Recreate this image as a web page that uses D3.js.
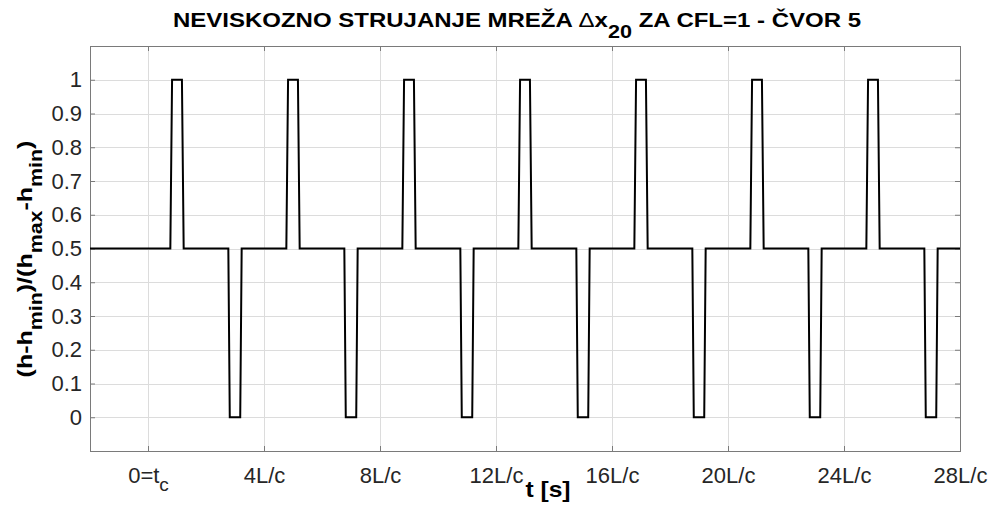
<!DOCTYPE html>
<html>
<head>
<meta charset="utf-8">
<script src="https://cdn.jsdelivr.net/npm/d3@7"></script>
<style>
  body { margin: 0; background: #fff; }
  text { font-family: "Liberation Sans", Arial, sans-serif; }
</style>
</head>
<body>
<svg id="chart"></svg>
<script>
// time in units of L/c, relative head (h-hmin)/(hmax-hmin)
const tVals = [
  -2,
  0.77, 0.83, 1.17, 1.23,   2.77, 2.82, 3.18, 3.23,
  4.77, 4.83, 5.17, 5.23,   6.77, 6.82, 7.18, 7.23,
  8.77, 8.83, 9.17, 9.23,   10.77, 10.82, 11.18, 11.23,
  12.77, 12.83, 13.17, 13.23, 14.77, 14.82, 15.18, 15.23,
  16.77, 16.83, 17.17, 17.23, 18.77, 18.82, 19.18, 19.23,
  20.77, 20.83, 21.17, 21.23, 22.77, 22.82, 23.18, 23.23,
  24.77, 24.83, 25.17, 25.23, 26.77, 26.82, 27.18, 27.23,
  28
];
const hVals = [
  0.5,
  0.5, 1, 1, 0.5,   0.5, 0, 0, 0.5,
  0.5, 1, 1, 0.5,   0.5, 0, 0, 0.5,
  0.5, 1, 1, 0.5,   0.5, 0, 0, 0.5,
  0.5, 1, 1, 0.5,   0.5, 0, 0, 0.5,
  0.5, 1, 1, 0.5,   0.5, 0, 0, 0.5,
  0.5, 1, 1, 0.5,   0.5, 0, 0, 0.5,
  0.5, 1, 1, 0.5,   0.5, 0, 0, 0.5,
  0.5
];
const xTicks = [0, 4, 8, 12, 16, 20, 24, 28];
const xTickLabels = ["0=t", "4L/c", "8L/c", "12L/c", "16L/c", "20L/c", "24L/c", "28L/c"];
const yTicks = [0, 0.1, 0.2, 0.3, 0.4, 0.5, 0.6, 0.7, 0.8, 0.9, 1];

const W = 992, H = 508;
const margin = { top: 46, right: 32, bottom: 57, left: 90 };
const width = W - margin.left - margin.right;
const height = H - margin.top - margin.bottom;

const svg = d3.select("#chart").attr("width", W).attr("height", H);
const g = svg.append("g").attr("transform", `translate(${margin.left},${margin.top})`);

const x = d3.scaleLinear().domain([-2, 28]).range([0, width]);
const y = d3.scaleLinear().domain([-0.1, 1.1]).range([height, 0]);

// grid
const grid = g.append("g").attr("stroke", "#dcdcdc").attr("stroke-width", 1);
grid.selectAll("line.gx").data(xTicks).join("line")
    .attr("x1", d => Math.round(x(d)) + 0.5).attr("x2", d => Math.round(x(d)) + 0.5)
    .attr("y1", 0).attr("y2", height);
grid.selectAll("line.gy").data(yTicks).join("line")
    .attr("y1", d => Math.round(y(d)) + 0.5).attr("y2", d => Math.round(y(d)) + 0.5)
    .attr("x1", 0).attr("x2", width);

// axes
const axisColor = "#7a7a7a";
const tickColor = "#262626";
const tickFont = 22;

const xAxis = g.append("g")
    .attr("transform", `translate(0,${height})`)
    .call(d3.axisBottom(x).tickValues(xTicks).tickSizeInner(-5).tickSizeOuter(0).tickPadding(16)
        .tickFormat((d, i) => xTickLabels[i]));
xAxis.selectAll("text").attr("font-size", tickFont).attr("fill", tickColor)
    .style("font-family", "'Liberation Sans', Arial, sans-serif");
xAxis.select(".tick text").append("tspan").attr("font-size", 19).attr("dy", 8).text("c");

g.append("g").call(d3.axisTop(x).tickValues(xTicks).tickSizeInner(-5).tickSizeOuter(0).tickFormat(""));

const yAxis = g.append("g")
    .call(d3.axisLeft(y).tickValues(yTicks).tickSizeInner(-5).tickSizeOuter(0).tickPadding(8)
        .tickFormat(d3.format("~g")));
yAxis.selectAll("text").attr("font-size", tickFont).attr("fill", tickColor)
    .style("font-family", "'Liberation Sans', Arial, sans-serif");

g.append("g").attr("transform", `translate(${width},0)`)
    .call(d3.axisRight(y).tickValues(yTicks).tickSizeInner(-5).tickSizeOuter(0).tickFormat(""));

g.selectAll(".domain").attr("stroke", axisColor);
g.selectAll(".tick line").attr("stroke", axisColor);

// box
g.append("rect").attr("x", 0.5).attr("y", 0.5).attr("width", width).attr("height", height)
    .attr("fill", "none").attr("stroke", axisColor);

// line
const line = d3.line().x(d => x(d[0])).y(d => y(d[1]));
g.append("path")
    .datum(tVals.map((t, i) => [t, hVals[i]]))
    .attr("d", line)
    .attr("fill", "none")
    .attr("stroke", "#000")
    .attr("stroke-width", 2)
    .attr("stroke-linejoin", "miter");

// title
const title = svg.append("text")
    .attr("transform", "translate(517,27) scale(1.2,1)")
    .attr("text-anchor", "middle")
    .attr("font-size", 20).attr("font-weight", "bold").attr("fill", "#000");
title.append("tspan").text("NEVISKOZNO STRUJANJE MREŽA ");
title.append("tspan").attr("font-weight", "normal").text("Δ");
title.append("tspan").text("x");
title.append("tspan").attr("dy", 11).attr("font-size", 18).text("20");
title.append("tspan").attr("dy", -11).text(" ZA CFL=1 - ČVOR 5");

// x label
svg.append("text")
    .attr("transform", "translate(548,497) scale(1.12,1)")
    .attr("text-anchor", "middle")
    .attr("font-size", 22).attr("font-weight", "bold").attr("fill", "#000")
    .text("t [s]");

// y label
const ylab = svg.append("text")
    .attr("transform", "translate(32,259) rotate(-90) scale(1.19,1)")
    .attr("text-anchor", "middle")
    .attr("font-size", 21).attr("font-weight", "bold").attr("fill", "#000");
ylab.append("tspan").text("(h-h");
ylab.append("tspan").attr("dy", 10).attr("font-size", 18).text("min");
ylab.append("tspan").attr("dy", -10).text(")/(h");
ylab.append("tspan").attr("dy", 10).attr("font-size", 18).text("max");
ylab.append("tspan").attr("dy", -10).text("-h");
ylab.append("tspan").attr("dy", 10).attr("font-size", 18).text("min");
ylab.append("tspan").attr("dy", -10).text(")");
</script>
</body>
</html>
